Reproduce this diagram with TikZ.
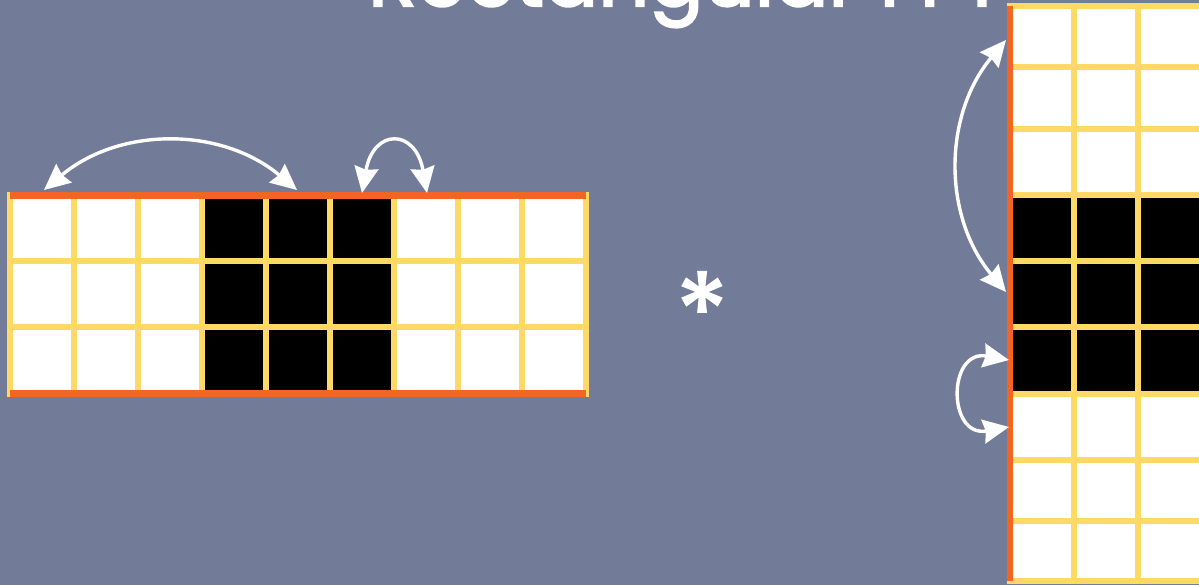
\documentclass[tikz,border=0pt]{standalone}
\usepackage{fontspec}
\setmainfont{Poppins}
\newfontfamily\titlefont{Poppins}[FakeBold=2.5]
\newfontfamily\starfont{Poppins}[FakeBold=1.5]
\usetikzlibrary{arrows.meta}
\definecolor{slate}{RGB}{114,124,152}
\definecolor{gridyellow}{RGB}{255,217,102}
\definecolor{edgeorange}{RGB}{242,101,34}

\begin{document}
\begin{tikzpicture}[x=1pt, y=1pt,
    grid line/.style={gridyellow, line width=6pt},
    edge bar/.style={edgeorange, line width=6.6pt},
    swap arrow/.style={white, line width=3.4pt,
        {Stealth[length=26pt, width=24pt, inset=2.5pt]}-{Stealth[length=26pt, width=24pt, inset=2.5pt]}}]

    \fill[slate] (0,0) rectangle (1199,-585);
    \useasboundingbox (0,0) rectangle (1199,-585);

    \node[anchor=base west, white, inner sep=0pt, font=\titlefont\fontsize{80}{96}\selectfont] (title) at (368,-6) {Rectangular FFT};

    % left grid, 9 columns by 3 rows
    \fill[white] (10,-195.3) rectangle (586,-393.3);
    \fill[black] (202,-195.3) rectangle (394,-393.3);
    \foreach \x in {74,138,...,522}
        \draw[grid line] (\x,-195.3) -- (\x,-393.3);
    \foreach \y in {260.7,326.7}
        \draw[grid line] (10,-\y) -- (586,-\y);
    \draw[grid line] (10,-191.7) -- (10,-397);
    \draw[grid line] (586,-191.7) -- (586,-397);
    \draw[edge bar] (10,-195.3) -- (586,-195.3);
    \draw[edge bar] (10,-393.3) -- (586,-393.3);

    % right grid, 3 columns by 9 rows
    \fill[white] (1010,-6) rectangle (1202,-581);
    \fill[black] (1010,-195) rectangle (1202,-394);
    \foreach \y in {67,129,195,261,327,394,460,521}
        \draw[grid line] (1010,-\y) -- (1202,-\y);
    \foreach \x in {1074,1138}
        \draw[grid line] (\x,-6) -- (\x,-581);
    \draw[grid line] (1006.7,-6) -- (1206,-6);
    \draw[grid line] (1006.7,-581) -- (1206,-581);
    \draw[edge bar] (1010,-6) -- (1010,-581);
    \draw[edge bar] (1202,-6) -- (1202,-581);

    \node[white, anchor=base, inner sep=0pt, font=\starfont\fontsize{108}{120}\selectfont] (star) at (702,-351) {*};

    \coordinate (h1a) at (44,-190);
    \coordinate (h1b) at (297,-190);
    \coordinate (h2a) at (362,-193);
    \coordinate (h2b) at (427,-193);
    \coordinate (v1a) at (1006,-40);
    \coordinate (v1b) at (1006,-292);
    \coordinate (v2a) at (1009,-360);
    \coordinate (v2b) at (1009,-427);

    \draw[swap arrow] (h1a) to[bend left=40] (h1b);
    \draw[swap arrow] (h2a) to[out=80, in=100, looseness=2.6] (h2b);
    \draw[swap arrow] (v1a) to[bend right=40] (v1b);
    \draw[swap arrow] (v2a) to[out=170, in=190, looseness=2.4] (v2b);

\end{tikzpicture}
\end{document}
